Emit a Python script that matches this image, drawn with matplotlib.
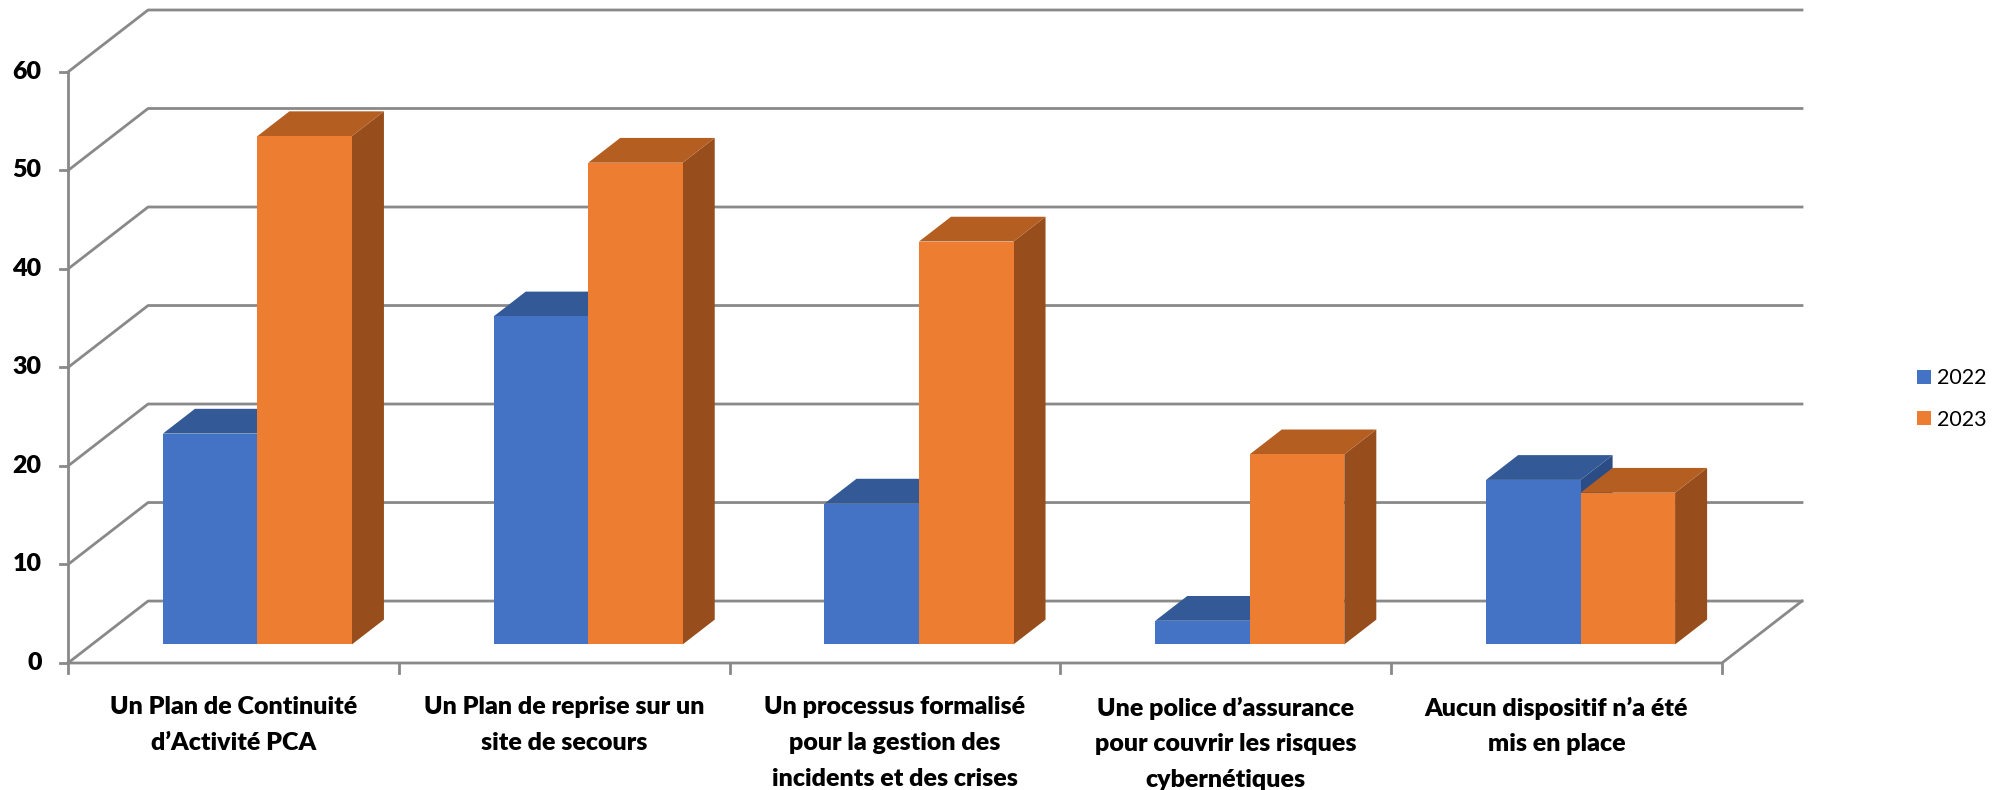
import matplotlib
matplotlib.use("Agg")
import matplotlib.pyplot as plt
from matplotlib.patches import Polygon, Patch

# DATA
categories = [
    "Un Plan de Continuité\nd’Activité PCA",
    "Un Plan de reprise sur un\nsite de secours",
    "Un processus formalisé\npour la gestion des\nincidents et des crises",
    "Une police d’assurance\npour couvrir les risques\ncybernétiques",
    "Aucun dispositif n’a été\nmis en place",
]
series_names = ["2022", "2023"]
values_2022 = [21.4, 33.3, 14.3, 2.4, 16.7]
values_2023 = [51.6, 48.9, 40.9, 19.3, 15.4]
y_ticks = [0, 10, 20, 30, 40, 50, 60]

# STYLE
front_cols = ["#4472C4", "#ED7D31"]
top_cols = ["#335A96", "#B45E22"]
side_cols = ["#2C4C86", "#974E1C"]
grid_col = "#898989"
plt.rcParams['font.family'] = ['Lato', 'DejaVu Sans']

# oblique "3D" projection: depth d in [0, 1]
DX = 0.242   # depth shift in category units
DY = 6.29    # depth shift in value units
d0, d1 = 0.3, 0.7
bar_w = 1 / 3.5
ymax = y_ticks[-1]
ncat = len(categories)


def proj(x, v, d):
    return (x + d * DX, v + d * DY)


fig = plt.figure(figsize=(19.93, 7.90), dpi=100)
W, H = 1993, 790
ax = fig.add_axes([68 / W, (H - 663) / H, 1734 / W, 653 / H])
ax.set_xlim(0, ncat + DX)
ax.set_ylim(0, ymax + DY)
ax.axis('off')

lw = 2.0
# walls and gridlines
for v in y_ticks:
    xs, ys = zip(proj(0, v, 0), proj(0, v, 1), proj(ncat, v, 1))
    ax.plot(xs, ys, color=grid_col, lw=lw, clip_on=False, zorder=1)
    # y tick marks
    ax.plot([-0.025, 0], [v, v], color=grid_col, lw=lw, clip_on=False, zorder=1)
    ax.text(-0.08, v, str(v), ha='right', va='center', fontsize=18,
            fontweight='heavy', color='black')

# floor edges and front axis
xs, ys = zip(proj(0, 0, 0), proj(ncat, 0, 0), proj(ncat, 0, 1))
ax.plot(xs, ys, color=grid_col, lw=lw, clip_on=False, zorder=1)
ax.plot([0, 0], [0, ymax], color=grid_col, lw=lw, clip_on=False, zorder=1)
for i in range(ncat + 1):
    ax.plot([i, i], [0, -1.0], color=grid_col, lw=lw, clip_on=False, zorder=1)

# bars
all_vals = [values_2022, values_2023]
for i in range(ncat):
    for k, vals in enumerate(all_vals):
        val = vals[i]
        x0 = i + 0.5 - bar_w + k * bar_w
        x1 = x0 + bar_w
        front = [proj(x0, 0, d0), proj(x1, 0, d0), proj(x1, val, d0), proj(x0, val, d0)]
        top = [proj(x0, val, d0), proj(x1, val, d0), proj(x1, val, d1), proj(x0, val, d1)]
        side = [proj(x1, 0, d0), proj(x1, 0, d1), proj(x1, val, d1), proj(x1, val, d0)]
        z = 3 + i * 2 + k
        ax.add_patch(Polygon(side, closed=True, fc=side_cols[k], ec='none', zorder=z, clip_on=False))
        ax.add_patch(Polygon(top, closed=True, fc=top_cols[k], ec='none', zorder=z, clip_on=False))
        ax.add_patch(Polygon(front, closed=True, fc=front_cols[k], ec='none', zorder=z, clip_on=False))

# category labels
for i, lab in enumerate(categories):
    ax.text(i + 0.5, -3.4, lab, ha='center', va='top', fontsize=18,
            fontweight='heavy', linespacing=1.76, color='black')

# legend
handles = [Patch(fc=front_cols[k], ec='none') for k in range(2)]
fig.legend(handles, series_names, loc='center left',
           bbox_to_anchor=(1898 / W, 1 - 399 / H), frameon=False,
           fontsize=15.5, handlelength=0.62, handleheight=0.62,
           handletextpad=0.3, labelspacing=1.0)

fig.savefig("out.png", dpi=100)
